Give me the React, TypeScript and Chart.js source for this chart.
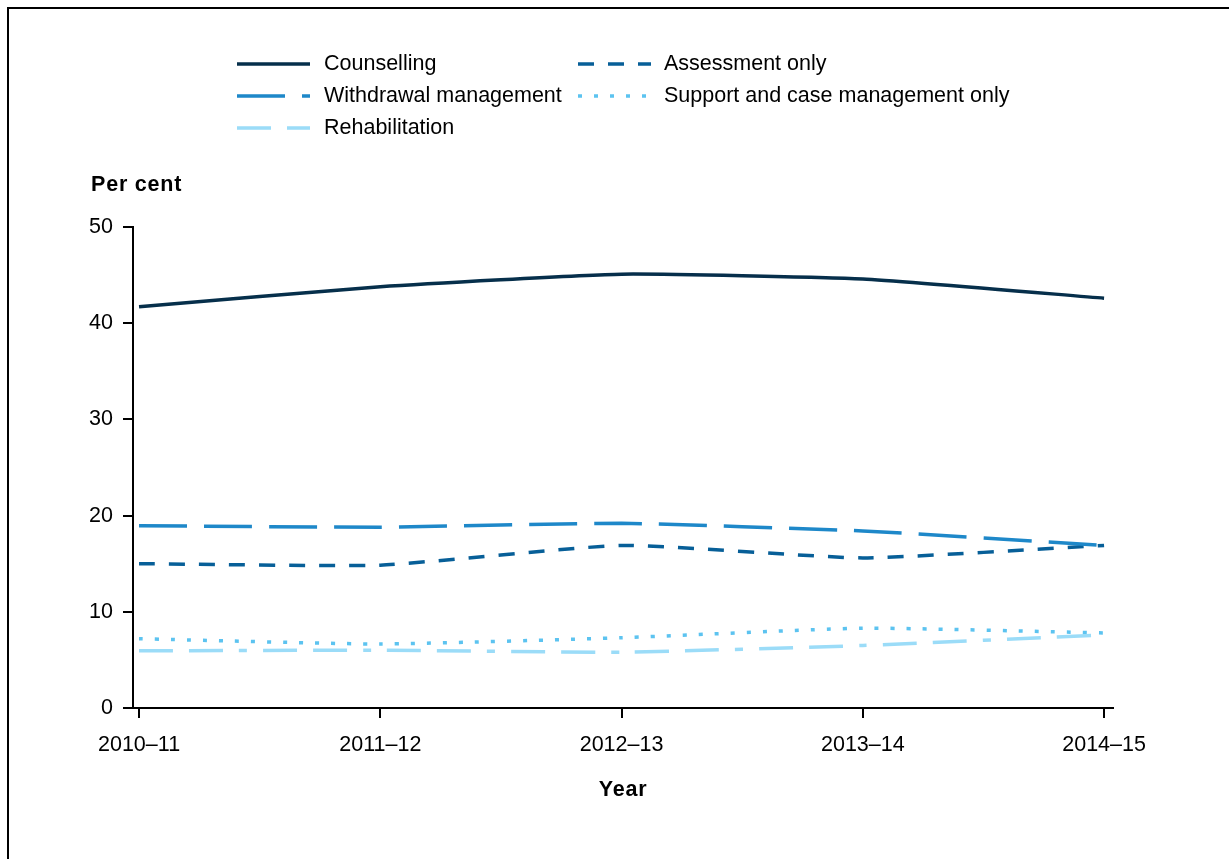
import React, { useEffect, useRef } from "react";
import { Chart, registerables } from "chart.js";

Chart.register(...registerables);

const years = ["2010–11", "2011–12", "2012–13", "2013–14", "2014–15"];
const counselling = [41.7, 43.8, 45.1, 44.6, 42.6];
const withdrawal = [18.95, 18.8, 19.2, 18.4, 16.9];
const rehabilitation = [5.95, 6.0, 5.8, 6.5, 7.6];
const assessment = [15.0, 14.85, 16.9, 15.6, 16.9];
const support = [7.2, 6.65, 7.3, 8.3, 7.8];
const yTickValues = [0, 10, 20, 30, 40, 50];

const FONT = "'Liberation Sans', Arial, Helvetica, sans-serif";
const FS = 21.5;

const seriesDefs = [
  { label: "Counselling", data: counselling, color: "#062f4b", dash: [] as number[] },
  { label: "Withdrawal management", data: withdrawal, color: "#1e88c9", dash: [48, 17] },
  { label: "Rehabilitation", data: rehabilitation, color: "#9bdcf8", dash: [34, 16, 34, 16, 8, 16] },
  { label: "Assessment only", data: assessment, color: "#075f98", dash: [16, 14] },
  { label: "Support and case management only", data: support, color: "#5cc3f0", dash: [4, 12] },
];

const overlayPlugin = {
  id: "overlay",
  afterDraw(chart: any) {
    const ctx = chart.ctx as CanvasRenderingContext2D;
    ctx.save();
    const colLineX = [237, 578];
    const colTextX = [324, 664];
    const rowY = [64, 96, 128];
    const slots = [
      { ds: 0, col: 0, row: 0 },
      { ds: 1, col: 0, row: 1 },
      { ds: 2, col: 0, row: 2 },
      { ds: 3, col: 1, row: 0 },
      { ds: 4, col: 1, row: 1 },
    ];
    slots.forEach((s) => {
      const ds = chart.data.datasets[s.ds];
      const y = rowY[s.row];
      ctx.beginPath();
      ctx.setLineDash(ds.borderDash || []);
      ctx.lineWidth = 3.5;
      ctx.strokeStyle = ds.borderColor;
      ctx.lineCap = "butt";
      ctx.moveTo(colLineX[s.col], y);
      ctx.lineTo(colLineX[s.col] + 73, y);
      ctx.stroke();
      ctx.setLineDash([]);
      ctx.fillStyle = "#000";
      ctx.font = `${FS}px ${FONT}`;
      ctx.textAlign = "left";
      ctx.textBaseline = "middle";
      ctx.fillText(ds.label, colTextX[s.col], y);
    });
    ctx.font = `bold ${FS}px ${FONT}`;
    (ctx as any).letterSpacing = "0.8px";
    ctx.fillStyle = "#000";
    ctx.textAlign = "left";
    ctx.textBaseline = "middle";
    ctx.fillText("Per cent", 91, 185);
    const ca = chart.chartArea;
    const w = ctx.measureText("Year").width;
    ctx.fillText("Year", (ca.left + ca.right) / 2 - w / 2, 790);
    (ctx as any).letterSpacing = "0px";
    ctx.restore();
  },
};

export default function App() {
  const ref = useRef<HTMLCanvasElement | null>(null);

  useEffect(() => {
    if (!ref.current) return;
    document.body.style.overflow = "hidden";
    const chart = new Chart(ref.current, {
      type: "line",
      data: {
        datasets: seriesDefs.map((s) => ({
          label: s.label,
          data: s.data.map((v, i) => ({ x: i, y: v })),
          borderColor: s.color,
          backgroundColor: s.color,
          borderDash: s.dash,
          borderWidth: 3.5,
          pointRadius: 0,
          fill: false,
          tension: 0.15,
          borderCapStyle: "butt" as const,
        })),
      },
      options: {
        responsive: false,
        animation: false,
        devicePixelRatio: 1,
        layout: { padding: { top: 227, right: 116, left: 0, bottom: 0 } },
        plugins: {
          legend: { display: false },
          tooltip: { enabled: false },
        },
        scales: {
          x: {
            type: "linear",
            min: -0.025,
            max: 4.037,
            afterBuildTicks: (scale: any) => {
              scale.ticks = years.map((_, i) => ({ value: i }));
            },
            afterFit: (scale: any) => {
              scale.height = 151;
            },
            ticks: {
              callback: (v: any) => years[v as number] ?? "",
              color: "#000",
              font: { family: FONT, size: FS },
              padding: 14,
              maxRotation: 0,
              autoSkip: false,
            },
            grid: {
              drawOnChartArea: false,
              drawTicks: true,
              tickLength: 10,
              color: "#000",
              lineWidth: 2,
            },
            border: { display: true, color: "#000", width: 2 },
          },
          y: {
            type: "linear",
            min: 0,
            max: 50,
            afterBuildTicks: (scale: any) => {
              scale.ticks = yTickValues.map((v) => ({ value: v }));
            },
            afterFit: (scale: any) => {
              scale.width = 133;
            },
            ticks: {
              color: "#000",
              font: { family: FONT, size: FS },
              padding: 10,
            },
            grid: {
              drawOnChartArea: false,
              drawTicks: true,
              tickLength: 10,
              color: "#000",
              lineWidth: 2,
            },
            border: { display: true, color: "#000", width: 2 },
          },
        },
      },
      plugins: [overlayPlugin],
    });
    return () => chart.destroy();
  }, []);

  return (
    <>
      <div
        style={{
          position: "absolute",
          left: 7,
          top: 7,
          width: 1222,
          height: 852,
          borderTop: "2px solid #000",
          borderLeft: "2px solid #000",
          boxSizing: "border-box",
          background: "#fff",
        }}
      />
      <canvas
        ref={ref}
        width={1229}
        height={859}
        style={{ position: "absolute", left: 0, top: 0, width: 1229, height: 859 }}
      />
    </>
  );
}
